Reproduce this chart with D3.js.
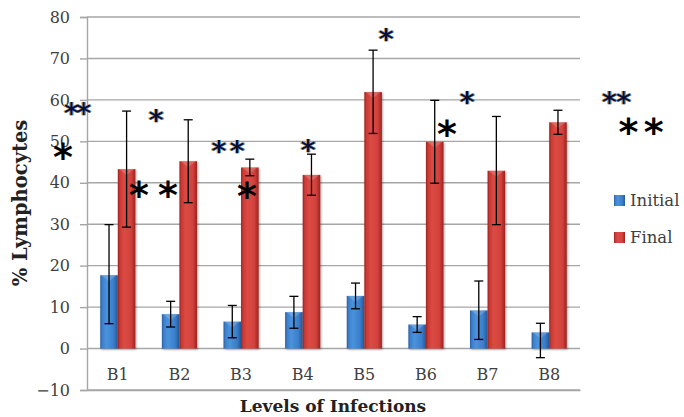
<!DOCTYPE html>
<html><head><meta charset="utf-8">
<script src="https://cdn.jsdelivr.net/npm/d3@7"></script>
<style>
html,body{margin:0;padding:0;background:#fff;}
svg{display:block;}
</style></head>
<body><svg id="c" width="684" height="417"></svg>
<script>
// ---- data ----
const categories = ["B1","B2","B3","B4","B5","B6","B7","B8"];
const seriesNames = ["Initial","Final"];
const initialVals  = [17.7, 8.3, 6.5, 8.8, 12.7, 5.8, 9.2, 3.9];
const initialPlus  = [12.2, 3.1, 3.9, 3.8, 3.1, 1.9, 7.1, 2.2];
const initialMinus = [11.7, 3.1, 3.9, 3.9, 3.1, 1.9, 7.0, 6.1];
const finalVals    = [43.3, 45.2, 43.7, 41.9, 61.9, 49.9, 42.9, 54.6];
const finalPlus    = [14.0, 10.0, 2.0, 5.0, 10.1, 10.0, 13.1, 2.9];
const finalMinus   = [14.0, 10.0, 2.0, 4.9, 10.0, 10.0, 13.0, 2.9];
const yTicks = [-10, 0, 10, 20, 30, 40, 50, 60, 70, 80];
// significance marks: pos in category-slot units, val in % units, big = large black star
const marks = [
  {t:"**",  pos:-0.178, val:57.3, big:false, ls:-3},
  {t:"*",   pos:-0.389, val:46.9, big:true,  ls:0},
  {t:"*",   pos:1.120,  val:55.6, big:false, ls:0},
  {t:"* *", pos:1.062,  val:37.6, big:true,  ls:-2},
  {t:"**",  pos:2.313,  val:48.2, big:false, ls:3},
  {t:"*",   pos:2.596,  val:37.5, big:true,  ls:0},
  {t:"*",   pos:3.586,  val:48.4, big:false, ls:0},
  {t:"*",   pos:4.852,  val:75.1, big:false, ls:0},
  {t:"*",   pos:5.842,  val:52.5, big:true,  ls:0},
  {t:"*",   pos:6.166,  val:60.0, big:false, ls:0},
  {t:"**",  pos:8.584,  val:60.0, big:false, ls:-1},
  {t:"* *", pos:8.958,  val:52.8, big:true,  ls:-4}
];

const svg = d3.select("#c");
const L = 87, R = 580, T = 17, B = 390;
const serif = "'DejaVu Serif', 'Liberation Serif', serif";

const y = d3.scaleLinear().domain([-10, 80]).range([B, T]);
const x0 = d3.scaleBand().domain(categories).range([L, R]).paddingInner(0.43).paddingOuter(0.215);
const x1 = d3.scaleBand().domain(seriesNames).range([0, x0.bandwidth()]);
const xPos = d3.scaleLinear().domain([0, categories.length]).range([L, R]);

// gradients
const defs = svg.append("defs");
function grad(id, stops){
  const g = defs.append("linearGradient").attr("id", id).attr("x1","0").attr("x2","1").attr("y1","0").attr("y2","0");
  stops.forEach(s => g.append("stop").attr("offset", s[0]).attr("stop-color", s[1]));
}
grad("gBlue", [[0,"#2a5fa3"],[0.12,"#3d80cc"],[0.35,"#4b92dc"],[0.75,"#3b7ecb"],[1,"#255896"]]);
grad("gRed",  [[0,"#9e201d"],[0.12,"#c93a35"],[0.35,"#db4a44"],[0.75,"#d3423d"],[1,"#9c231f"]]);
const f = defs.append("filter").attr("id","sh").attr("x","-30%").attr("y","-10%").attr("width","160%").attr("height","120%");
f.append("feGaussianBlur").attr("in","SourceAlpha").attr("stdDeviation",1.2).attr("result","b");
f.append("feOffset").attr("in","b").attr("dx",0.5).attr("dy",0.5).attr("result","o");
f.append("feComponentTransfer").attr("in","o").attr("result","o2").append("feFuncA").attr("type","linear").attr("slope",0.35);
const m = f.append("feMerge"); m.append("feMergeNode").attr("in","o2"); m.append("feMergeNode").attr("in","SourceGraphic");

// colour fringe filter for the small stars
const cf = defs.append("filter").attr("id","fr").attr("x","-30%").attr("y","-30%").attr("width","160%").attr("height","160%");
cf.append("feFlood").attr("flood-color","#e8a030").attr("result","c1");
cf.append("feOffset").attr("in","SourceAlpha").attr("dx",-1).attr("dy",0).attr("result","a1");
cf.append("feComposite").attr("in","c1").attr("in2","a1").attr("operator","in").attr("result","s1");
cf.append("feFlood").attr("flood-color","#3a95e8").attr("result","c2");
cf.append("feOffset").attr("in","SourceAlpha").attr("dx",1).attr("dy",0).attr("result","a2");
cf.append("feComposite").attr("in","c2").attr("in2","a2").attr("operator","in").attr("result","s2");
const cm = cf.append("feMerge");
cm.append("feMergeNode").attr("in","s1"); cm.append("feMergeNode").attr("in","s2"); cm.append("feMergeNode").attr("in","SourceGraphic");

// gridlines
const yAxis = d3.axisLeft(y).tickValues(yTicks).tickSize(7).tickPadding(10).tickFormat(d3.format("d"));
svg.append("g").selectAll("line").data(yTicks).join("line")
  .attr("x1", L).attr("x2", R).attr("y1", d => y(d)).attr("y2", d => y(d))
  .attr("stroke", "#a6a6a6").attr("stroke-width", 1.4);

const ga = svg.append("g").attr("transform", `translate(${L},0)`).call(yAxis);
ga.select(".domain").attr("stroke", "#a6a6a6").attr("stroke-width", 1.4);
ga.selectAll(".tick line").attr("stroke", "#a6a6a6").attr("stroke-width", 1.4);
ga.selectAll(".tick text").attr("font-family", serif).attr("font-size", 16).attr("fill", "#404040");

// x axis (at -10)
const xa = svg.append("g").attr("transform", `translate(0,${B})`).call(d3.axisBottom(x0).tickSize(0).tickPadding(0));
xa.select(".domain").attr("stroke", "#a6a6a6").attr("stroke-width", 1.4);
xa.selectAll(".tick text").attr("font-family", serif).attr("font-size", 16).attr("fill", "#404040")
  .attr("y", y(0) - B + 20);

// bars
const groups = svg.append("g").selectAll("g").data(categories).join("g")
  .attr("transform", d => `translate(${x0(d)},0)`);
const rows = (i) => [
  {s:"Initial", v: initialVals[i], ep: initialPlus[i], em: initialMinus[i], fill:"url(#gBlue)"},
  {s:"Final",   v: finalVals[i],   ep: finalPlus[i],   em: finalMinus[i],   fill:"url(#gRed)"}
];
groups.each(function(c, i){
  const g = d3.select(this);
  const data = rows(i);
  g.selectAll("rect").data(data).join("rect")
    .attr("x", d => x1(d.s)).attr("width", x1.bandwidth())
    .attr("y", d => y(Math.max(0, d.v))).attr("height", d => Math.abs(y(d.v) - y(0)))
    .attr("fill", d => d.fill).attr("filter", "url(#sh)");
  g.selectAll("path.bev").data(data).join("path").attr("class","bev")
    .attr("d", d => {
      const xa = x1(d.s), w = x1.bandwidth(), yt = y(d.v);
      return `M${xa+1},${yt} L${xa+w-1},${yt} L${xa+w/2},${yt+6} Z`;
    })
    .attr("fill", "#ffffff").attr("opacity", 0.18);
  const eb = g.selectAll("g.eb").data(data).join("g").attr("class","eb")
    .attr("stroke", "#000").attr("stroke-width", 1.3);
  const cx = d => x1(d.s) + x1.bandwidth()/2;
  eb.append("line").attr("x1", cx).attr("x2", cx).attr("y1", d => y(d.v + d.ep)).attr("y2", d => y(d.v - d.em));
  eb.append("line").attr("x1", d => cx(d)-4.5).attr("x2", d => cx(d)+4.5).attr("y1", d => y(d.v + d.ep)).attr("y2", d => y(d.v + d.ep));
  eb.append("line").attr("x1", d => cx(d)-4.5).attr("x2", d => cx(d)+4.5).attr("y1", d => y(d.v - d.em)).attr("y2", d => y(d.v - d.em));
});

// significance stars
const sans = "'DejaVu Sans', sans-serif";
const SMALL = 29, BIG = 38;
svg.append("g").selectAll("text").data(marks).join("text")
  .text(d => d.t)
  .attr("x", d => xPos(d.pos)).attr("y", d => y(d.val) + 0.41 * (d.big ? BIG : SMALL))
  .attr("text-anchor", "middle")
  .attr("letter-spacing", d => d.ls)
  .attr("font-family", sans).attr("font-weight", "bold")
  .attr("font-size", d => d.big ? BIG : SMALL)
  .attr("fill", d => d.big ? "#000" : "#101030")
  .attr("filter", d => d.big ? null : "url(#fr)")
  .style("white-space", "pre");

// axis titles
svg.append("text").text("% Lymphocytes")
  .attr("transform", `translate(27,203) rotate(-90)`).attr("text-anchor","middle")
  .attr("font-family", serif).attr("font-weight","bold").attr("font-size", 19.5).attr("fill", "#222");
svg.append("text").text("Levels of Infections")
  .attr("x", 333).attr("y", 412).attr("text-anchor","middle")
  .attr("font-family", serif).attr("font-weight","bold").attr("font-size", 17).attr("fill", "#222");

// legend
const lg = svg.append("g").selectAll("g").data(seriesNames).join("g")
  .attr("transform", (d,i) => `translate(614,${195 + i*37})`);
lg.append("rect").attr("width", 11).attr("height", 11)
  .attr("fill", (d,i) => i === 0 ? "url(#gBlue)" : "url(#gRed)");
lg.append("text").text(d => d).attr("x", 16).attr("y", 11)
  .attr("font-family", serif).attr("font-size", 16.5).attr("fill", "#404040");
</script></body></html>
